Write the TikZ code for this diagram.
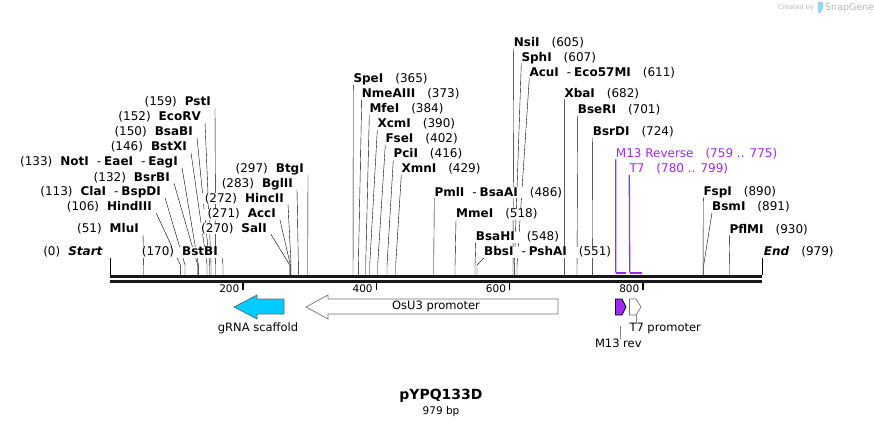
\documentclass[tikz,border=0pt]{standalone}
\usepackage{fontspec}
\setmainfont{DejaVu Sans}
\usetikzlibrary{positioning, backgrounds}

\definecolor{leadgray}{RGB}{130,130,130}
\definecolor{primer}{RGB}{160,40,240}
\definecolor{scaffold}{RGB}{0,204,255}
\definecolor{wmgray}{RGB}{185,185,185}
\definecolor{wmblue}{RGB}{150,210,245}

% map position (bp) -> x
\newcommand{\bp}[1]{109.7+0.66667*#1}
\newcommand{\gl}{\hspace{8pt}}
\newcommand{\gr}{\hspace{12pt}}
\newcommand{\orsep}{\hspace{8pt}-\hspace{3pt}}

\begin{document}
\begin{tikzpicture}[x=1pt, y=-1pt,
    cut/.style={font=\fontsize{12}{14}\selectfont, inner ysep=0pt, fill=white,
                text height=8.8pt, text depth=2pt},
    lft/.style={cut, anchor=south east, inner xsep=4pt},
    rgt/.style={cut, anchor=south west, inner xsep=0pt},
    lead/.style={draw=leadgray, line width=0.9pt},
    feat/.style={font=\fontsize{11.5}{13}\selectfont, inner sep=0pt,
                 text height=8.4pt, text depth=2.6pt}]
    \useasboundingbox (0,0) rectangle (874,426);

    % cut sites on the backbone
    \coordinate (c0)   at ({\bp{0}},275);
    \coordinate (c51)  at ({\bp{51}},275);
    \coordinate (c106) at ({\bp{106}},275);
    \coordinate (c113) at ({\bp{113}},275);
    \coordinate (c132) at ({\bp{132}},275);
    \coordinate (c133) at ({\bp{133}},275);
    \coordinate (c146) at ({\bp{146}},275);
    \coordinate (c150) at ({\bp{150}},275);
    \coordinate (c152) at ({\bp{152}},275);
    \coordinate (c159) at ({\bp{159}},275);
    \coordinate (c170) at ({\bp{170}},275);
    \coordinate (c270) at ({\bp{270}},275);
    \coordinate (c271) at ({\bp{271}},275);
    \coordinate (c272) at ({\bp{272}},275);
    \coordinate (c283) at ({\bp{283}},275);
    \coordinate (c297) at ({\bp{297}},275);
    \coordinate (c365) at ({\bp{365}},275);
    \coordinate (c373) at ({\bp{373}},275);
    \coordinate (c384) at ({\bp{384}},275);
    \coordinate (c390) at ({\bp{390}},275);
    \coordinate (c402) at ({\bp{402}},275);
    \coordinate (c416) at ({\bp{416}},275);
    \coordinate (c429) at ({\bp{429}},275);
    \coordinate (c486) at ({\bp{486}},275);
    \coordinate (c518) at ({\bp{518}},275);
    \coordinate (c548) at ({\bp{548}},275);
    \coordinate (c551) at ({\bp{551}},275);
    \coordinate (c605) at ({\bp{605}},275);
    \coordinate (c607) at ({\bp{607}},275);
    \coordinate (c611) at ({\bp{611}},275);
    \coordinate (c682) at ({\bp{682}},275);
    \coordinate (c701) at ({\bp{701}},275);
    \coordinate (c724) at ({\bp{724}},275);
    \coordinate (c890) at ({\bp{890}},275);
    \coordinate (c891) at ({\bp{891}},275);
    \coordinate (c930) at ({\bp{930}},275);
    \coordinate (c979) at ({\bp{979}},275);

    % backbone
    \coordinate (bbL) at ({\bp{0}},276.5);
    \coordinate (bbR) at ({\bp{979}},276.5);
    \draw[line width=3pt, black!90] (bbL) -- (bbR);
    \draw[line width=2.5pt, black!90] ([yshift=-4.8pt]bbL) -- ([yshift=-4.8pt]bbR);

    % ruler
    \begin{scope}[every node/.style={anchor=east, inner sep=0pt,
                  font=\fontsize{10.5}{12}\selectfont}]
        \draw[line width=1.5pt] ({\bp{200}},283) -- ({\bp{200}},290);
        \draw[line width=1.5pt] ({\bp{400}},283) -- ({\bp{400}},290);
        \draw[line width=1.5pt] ({\bp{600}},283) -- ({\bp{600}},290);
        \draw[line width=1.5pt] ({\bp{800}},283) -- ({\bp{800}},290);
        \node (t200) at ({\bp{200}-3.5},289) {200};
        \node (t400) at ({\bp{400}-3.5},289) {400};
        \node (t600) at ({\bp{600}-3.5},289) {600};
        \node (t800) at ({\bp{800}-3.5},289) {800};
    \end{scope}

    % enzymes, left of their line
    \node[lft] (PstI)    at (215,107.7) {(159)\gl\textbf{PstI}};
    \node[lft] (EcoRV)   at (205,122.7) {(152)\gl\textbf{EcoRV}};
    \node[lft] (BsaBI)   at (197,137.7) {(150)\gl\textbf{BsaBI}};
    \node[lft] (BstXI)   at (191,152.7) {(146)\gl\textbf{BstXI}};
    \node[lft] (NotI)    at (182,167.7) {(133)\gl\textbf{NotI}\orsep\textbf{EaeI}\orsep\textbf{EagI}};
    \node[lft] (BsrBI)   at (174,183.3) {(132)\gl\textbf{BsrBI}};
    \node[lft] (ClaI)    at (165,197.7) {(113)\gl\textbf{ClaI}\orsep\textbf{BspDI}};
    \node[lft] (HindIII) at (156,212.7) {(106)\gl\textbf{HindIII}};
    \node[lft] (MluI)    at (143,234.3) {(51)\gl\textbf{MluI}};
    \node[lft] (Start)   at (107,257.7) {(0)\gl\textbf{\textit{Start}}};
    \node[lft] (BstBI)   at (222,257.7) {(170)\gl\textbf{BstBI}};
    \node[lft] (SalI)    at (271,234.3) {(270)\gl\textbf{SalI}};
    \node[lft] (AccI)    at (280,220)   {(271)\gl\textbf{AccI}};
    \node[lft] (HincII)  at (288,204.3) {(272)\gl\textbf{HincII}};
    \node[lft] (BglII)   at (297,189.3) {(283)\gl\textbf{BglII}};
    \node[lft] (BtgI)    at (308,175)   {(297)\gl\textbf{BtgI}};

    % enzymes, right of their line
    \node[rgt] (SpeI)    at (353.3,85)    {\textbf{SpeI}\gr(365)};
    \node[rgt] (NmeAIII) at (361.7,100)   {\textbf{NmeAIII}\gr(373)};
    \node[rgt] (MfeI)    at (369.3,115)   {\textbf{MfeI}\gr(384)};
    \node[rgt] (XcmI)    at (377.3,130)   {\textbf{XcmI}\gr(390)};
    \node[rgt] (FseI)    at (385.3,145)   {\textbf{FseI}\gr(402)};
    \node[rgt] (PciI)    at (393.3,160)   {\textbf{PciI}\gr(416)};
    \node[rgt] (XmnI)    at (401.3,175)   {\textbf{XmnI}\gr(429)};
    \node[rgt] (PmlI)    at (434.3,198.3) {\textbf{PmlI}\orsep\textbf{BsaAI}\gr(486)};
    \node[rgt] (MmeI)    at (456,220)     {\textbf{MmeI}\gr(518)};
    \node[rgt] (BsaHI)   at (475.7,242.7) {\textbf{BsaHI}\gr(548)};
    \node[rgt] (BbsI)    at (484,257.7)   {\textbf{BbsI}\orsep\textbf{PshAI}\gr(551)};
    \node[rgt] (NsiI)    at (513.7,48.3)  {\textbf{NsiI}\gr(605)};
    \node[rgt] (SphI)    at (521.3,63.3)  {\textbf{SphI}\gr(607)};
    \node[rgt] (AcuI)    at (529.3,78.3)  {\textbf{AcuI}\orsep\textbf{Eco57MI}\gr(611)};
    \node[rgt] (XbaI)    at (564.3,99.3)  {\textbf{XbaI}\gr(682)};
    \node[rgt] (BseRI)   at (577.7,115.3) {\textbf{BseRI}\gr(701)};
    \node[rgt] (BsrDI)   at (592.7,137.7) {\textbf{BsrDI}\gr(724)};
    \node[rgt] (FspI)    at (703.3,197.7) {\textbf{FspI}\gr(890)};
    \node[rgt] (BsmI)    at (712,212.7)   {\textbf{BsmI}\gr(891)};
    \node[rgt] (PflMI)   at (729.3,235.3) {\textbf{PflMI}\gr(930)};
    \node[rgt] (End)     at (763.7,257.7) {\textbf{\textit{End}}\gr(979)};

    % leader lines, behind the labels
    \begin{scope}[on background layer, lead]
        \draw (PstI.south east)    -- ([yshift=10pt]c159) -- (c159);
        \draw (EcoRV.south east)   -- ([yshift=10pt]c152) -- (c152);
        \draw (BsaBI.south east)   -- ([yshift=10pt]c150) -- (c150);
        \draw (BstXI.south east)   -- ([yshift=10pt]c146) -- (c146);
        \draw (NotI.south east)    -- ([yshift=10pt]c133) -- (c133);
        \draw (BsrBI.south east)   -- ([yshift=10pt]c132) -- (c132);
        \draw (ClaI.south east)    -- ([yshift=10pt]c113) -- (c113);
        \draw (HindIII.south east) -- ([yshift=10pt]c106) -- (c106);
        \draw (MluI.south east)    -- ([yshift=10pt]c51)  -- (c51);
        \draw (Start.south east -| c0) -- (c0);
        \draw (BstBI.south east)   -- ([yshift=10pt]c170) -- (c170);
        \draw (SalI.south east)    -- ([yshift=10pt]c270) -- (c270);
        \draw (AccI.south east)    -- ([yshift=10pt]c271) -- (c271);
        \draw (HincII.south east)  -- ([yshift=10pt]c272) -- (c272);
        \draw (BglII.south east)   -- ([yshift=10pt]c283) -- (c283);
        \draw (BtgI.south east)    -- ([yshift=10pt]c297) -- (c297);

        \draw (SpeI.south west)    -- ([yshift=10pt]c365) -- (c365);
        \draw (NmeAIII.south west) -- ([yshift=10pt]c373) -- (c373);
        \draw (MfeI.south west)    -- ([yshift=10pt]c384) -- (c384);
        \draw (XcmI.south west)    -- ([yshift=10pt]c390) -- (c390);
        \draw (FseI.south west)    -- ([yshift=10pt]c402) -- (c402);
        \draw (PciI.south west)    -- ([yshift=10pt]c416) -- (c416);
        \draw (XmnI.south west)    -- ([yshift=10pt]c429) -- (c429);
        \draw (PmlI.south west)    -- ([yshift=10pt]c486) -- (c486);
        \draw (MmeI.south west)    -- ([yshift=10pt]c518) -- (c518);
        \draw (BsaHI.south west)   -- ([yshift=10pt]c548) -- (c548);
        \draw (BbsI.south west)    -- ([yshift=10pt]c551) -- (c551);
        \draw (NsiI.south west)    -- ([yshift=10pt]c605) -- (c605);
        \draw (SphI.south west)    -- ([yshift=10pt]c607) -- (c607);
        \draw (AcuI.south west)    -- ([yshift=10pt]c611) -- (c611);
        \draw (XbaI.south west)    -- ([yshift=10pt]c682) -- (c682);
        \draw (BseRI.south west)   -- ([yshift=10pt]c701) -- (c701);
        \draw (BsrDI.south west)   -- ([yshift=10pt]c724) -- (c724);
        \draw (FspI.south west)    -- ([yshift=10pt]c890) -- (c890);
        \draw (BsmI.south west)    -- ([yshift=10pt]c891) -- (c891);
        \draw (PflMI.south west)   -- ([yshift=10pt]c930) -- (c930);
        \draw (End.south west -| c979) -- (c979);
    \end{scope}

    % primers
    \node[rgt, text=primer] (M13) at (615.7,159.3) {M13 Reverse\gr(759 .. 775)};
    \node[rgt, text=primer] (T7)  at (629.3,175)   {T7\gr(780 .. 799)};
    \coordinate (m13a) at ({\bp{759}},272.5);
    \coordinate (m13b) at ({\bp{775}},272.5);
    \coordinate (t7a)  at ({\bp{780}},272.5);
    \coordinate (t7b)  at ({\bp{799}},272.5);
    \draw[primer, line width=1.3pt] (M13.south west) -- (m13a);
    \draw[primer, line width=1.3pt] (T7.south west) -- (t7a);
    \draw[primer, line width=2pt] (m13a) -- (m13b);
    \draw[primer, line width=2pt] (t7a) -- (t7b);

    % features
    \draw[black!60, fill=scaffold, line width=0.7pt]
        (234,307) -- (257,295) -- (257,299) -- (284,299) -- (284,314)
        -- (257,314) -- (257,319) -- cycle;
    \node[feat] (gRNA) at (258,329) {gRNA scaffold};

    \draw[black!55, fill=white, line width=0.7pt]
        (306,307) -- (328,295) -- (328,299) -- (558,299) -- (558,314)
        -- (328,314) -- (328,319) -- cycle;
    \node[feat] (OsU3) at (436,307) {OsU3 promoter};

    \draw[black, fill=primer, line width=0.7pt]
        (615.5,299) -- (622,299) -- (626,307) -- (622,315) -- (615.5,315) -- cycle;
    \coordinate (m13foot) at (620.7,326);
    \node[feat] (M13rev) at (618.3,345) {M13 rev};
    \draw[lead] (M13rev.north -| m13foot) -- (m13foot);

    \draw[black!55, fill=white, line width=0.7pt]
        (629.5,299) -- (636,299) -- (641,307) -- (636,315) -- (629.5,315) -- cycle;
    \coordinate (t7foot) at (636,315);
    \node[feat, anchor=west] (T7prom) at (629.3,329) {T7 promoter};
    \draw[lead] (t7foot) -- (T7prom.north -| t7foot);

    % title
    \node[font=\bfseries\fontsize{14}{16}\selectfont] (title) at (441,396) {pYPQ133D};
    \node[below=-3pt of title, font=\fontsize{10.5}{12}\selectfont] (size) {979 bp};

    % watermark
    \node[anchor=east, inner sep=0pt, text=wmgray, font=\fontsize{6.5}{7}\selectfont] (created) at (814,7.5) {Created by};
    \fill[wmblue] (818,2) -- (823,2) -- (823,8) -- (820.5,13) -- (818,13) -- cycle;
    \node[anchor=west, inner sep=0pt, text=wmgray, font=\fontsize{9.5}{10}\selectfont] (snapgene) at (825,7.5) {SnapGene};
\end{tikzpicture}
\end{document}
